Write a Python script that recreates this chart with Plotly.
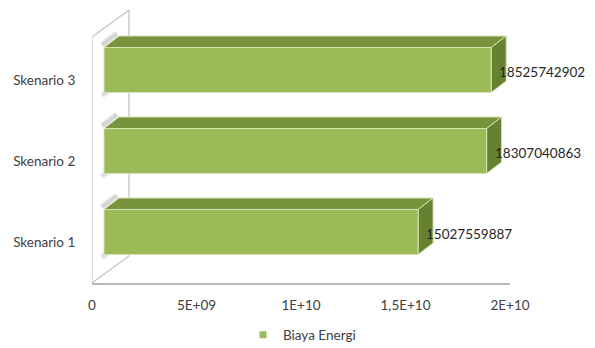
import plotly.graph_objects as go

# ---- data ----
categories = ["Skenario 1", "Skenario 2", "Skenario 3"]
biaya_energi = [15027559887, 18307040863, 18525742902]
tick_values = [0, 5e9, 1e10, 1.5e10, 2e10]
tick_labels = ["0", "5E+09", "1E+10", "1,5E+10", "2E+10"]
series_name = "Biaya Energi"

# ---- canvas / projection settings (pixels) ----
W, H = 595, 348
X0_PX, X1_PX = 92, 510        # front edge of the value axis
AXIS_Y_PX = 283               # front-bottom edge of the plot
CAT_PX = 81                   # pixel height of one category band
X_MAX = 2e10

kx = X_MAX / (X1_PX - X0_PX)  # value units per pixel
ky = 1.0 / CAT_PX             # category units per pixel
y_lo = -0.5
y_hi = y_lo + AXIS_Y_PX / CAT_PX

FRONT = (12, 10.5)    # offset of the bar front faces from the front plane
DEPTH = (15, 11.5)    # bar depth
WALL = (37, 27)       # depth of the side wall
HALF_H = 22.5         # half height of a bar's front face
WALL_TOP_PX = 37

FRONT_COL = "#9BBB59"
TOP_COL = "#77933C"
SIDE_COL = "#66812F"
EDGE_COL = "#D5E3B5"
WALL_LINE = "#C4C4C4"
TEXT_COL = "#404040"
FONT = "Lato, 'Open Sans', sans-serif"
FS = 13.5


def pt(v, c, dx_px=0.0, dy_px=0.0):
    return v + dx_px * kx, c + dy_px * ky


def poly(points, fill, line_col, line_w=1.0):
    xs = [p[0] for p in points] + [points[0][0]]
    ys = [p[1] for p in points] + [points[0][1]]
    return go.Scatter(x=xs, y=ys, mode="lines", fill="toself", fillcolor=fill,
                      line=dict(color=line_col, width=line_w),
                      hoverinfo="skip", showlegend=False)


fig = go.Figure()

# side wall on the left
wall_top_c = y_lo + (AXIS_Y_PX - WALL_TOP_PX) / CAT_PX
wall = [pt(0, y_lo), pt(0, wall_top_c),
        pt(0, wall_top_c, *WALL), pt(0, y_lo, *WALL)]
fig.add_trace(poly(wall, "white", WALL_LINE, 1.3))

# soft shading where each bar meets the wall
for c in range(len(categories)):
    for dy, alpha in ((HALF_H + 2.5, 0.22), (-HALF_H - 3, 0.18)):
        for w, a_mul in ((7, 0.5), (4, 1.0)):
            a = pt(0, c, FRONT[0] - 2, FRONT[1] + dy)
            b = pt(0, c, FRONT[0] + DEPTH[0] - 2, FRONT[1] + DEPTH[1] + dy)
            fig.add_trace(go.Scatter(
                x=[a[0], b[0]], y=[a[1], b[1]], mode="lines",
                line=dict(color=f"rgba(120,120,120,{alpha * a_mul:.3f})", width=w),
                hoverinfo="skip", showlegend=False))

# 3D bars
for c, v in enumerate(biaya_energi):
    fx, fy = FRONT
    ftl = pt(0, c, fx, fy + HALF_H)
    ftr = pt(v, c, fx, fy + HALF_H)
    fbr = pt(v, c, fx, fy - HALF_H)
    fbl = pt(0, c, fx, fy - HALF_H)
    btl = pt(0, c, fx + DEPTH[0], fy + HALF_H + DEPTH[1])
    btr = pt(v, c, fx + DEPTH[0], fy + HALF_H + DEPTH[1])
    bbr = pt(v, c, fx + DEPTH[0], fy - HALF_H + DEPTH[1])
    fig.add_trace(poly([ftl, ftr, btr, btl], TOP_COL, EDGE_COL, 1))
    fig.add_trace(poly([ftr, fbr, bbr, btr], SIDE_COL, EDGE_COL, 1))
    fig.add_trace(poly([ftl, ftr, fbr, fbl], FRONT_COL, EDGE_COL, 1))

# legend entry
fig.add_trace(go.Scatter(x=[None], y=[None], mode="markers", name=series_name,
                         marker=dict(symbol="square", size=7, color=FRONT_COL),
                         showlegend=True))

# value labels
for c, v in enumerate(biaya_energi):
    fig.add_annotation(x=v, y=c, xref="x", yref="y", text=str(v),
                       showarrow=False, xanchor="left", yanchor="middle",
                       xshift=FRONT[0] + 6, yshift=FRONT[1] - 1.5,
                       font=dict(family=FONT, size=FS, color="#262626"))

fig.update_layout(
    template="none",
    width=W, height=H,
    margin=dict(l=0, r=0, t=0, b=0, pad=0, autoexpand=False),
    paper_bgcolor="white", plot_bgcolor="white",
    font=dict(family=FONT, size=FS, color=TEXT_COL),
    xaxis=dict(domain=[X0_PX / W, X1_PX / W], range=[0, X_MAX],
               tickvals=tick_values, ticktext=tick_labels,
               ticks="outside", ticklen=9, tickcolor="rgba(0,0,0,0)",
               showgrid=False, zeroline=False, showline=True, automargin=False,
               linecolor="#B8B8B8", linewidth=1.6, fixedrange=True),
    yaxis=dict(domain=[(H - AXIS_Y_PX) / H, 1], range=[y_lo, y_hi],
               tickvals=list(range(len(categories))), ticktext=categories,
               ticks="outside", ticklen=13, tickcolor="rgba(0,0,0,0)",
               showgrid=False, zeroline=False, showline=False, automargin=False,
               fixedrange=True),
    legend=dict(orientation="h", x=(263 - 20) / W, xanchor="left",
                y=(H - 335) / H, yanchor="middle",
                bgcolor="rgba(0,0,0,0)", font=dict(family=FONT, size=FS, color=TEXT_COL)),
    showlegend=True,
)

fig.write_html("out.html")
